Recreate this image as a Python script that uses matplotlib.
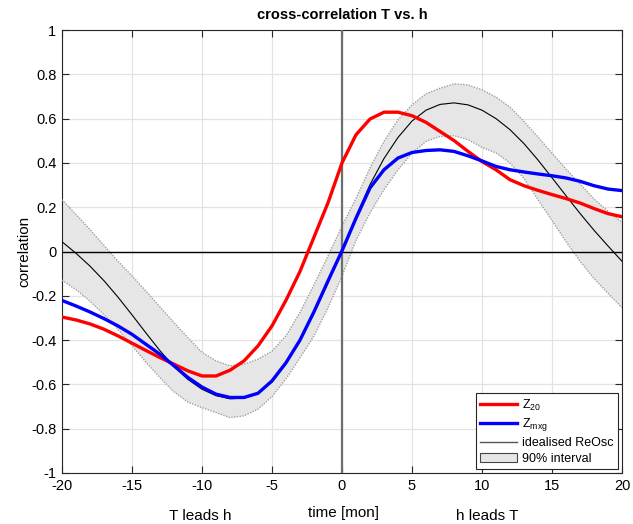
import numpy as np
import matplotlib
matplotlib.use("Agg")
import matplotlib.pyplot as plt
from matplotlib.patches import Patch
from matplotlib.lines import Line2D

plt.rcParams['font.family'] = ['Liberation Sans', 'DejaVu Sans']
plt.rcParams['mathtext.fontset'] = 'custom'
plt.rcParams['mathtext.rm'] = 'Liberation Sans'

lags = list(range(-20, 21))

z20 = [-0.296, -0.309, -0.327, -0.351, -0.381, -0.414, -0.447, -0.479, -0.509, -0.539,
       -0.562, -0.562, -0.536, -0.494, -0.426, -0.336, -0.220, -0.090, 0.065, 0.220,
       0.400, 0.527, 0.598, 0.629, 0.629, 0.613, 0.583, 0.542, 0.501, 0.452,
       0.406, 0.369, 0.324, 0.297, 0.276, 0.257, 0.239, 0.219, 0.194, 0.171, 0.157]

zmxg = [-0.221, -0.246, -0.273, -0.303, -0.336, -0.374, -0.419, -0.464, -0.516, -0.569,
        -0.612, -0.644, -0.659, -0.659, -0.640, -0.584, -0.502, -0.400, -0.272, -0.133,
        0.003, 0.150, 0.287, 0.369, 0.422, 0.447, 0.456, 0.459, 0.452, 0.432,
        0.409, 0.384, 0.369, 0.359, 0.350, 0.342, 0.332, 0.317, 0.297, 0.282, 0.275]

reosc = [0.044, -0.008, -0.066, -0.132, -0.206, -0.286, -0.368, -0.448, -0.520, -0.578,
         -0.622, -0.651, -0.665, -0.662, -0.640, -0.590, -0.507, -0.400, -0.278, -0.142,
         0.005, 0.159, 0.302, 0.420, 0.515, 0.589, 0.638, 0.664, 0.671, 0.662,
         0.638, 0.600, 0.550, 0.487, 0.413, 0.333, 0.252, 0.172, 0.096, 0.025, -0.044]

band_upper = [0.234, 0.167, 0.099, 0.027, -0.044, -0.110, -0.179, -0.250, -0.321, -0.390,
              -0.455, -0.494, -0.516, -0.509, -0.486, -0.450, -0.380, -0.275, -0.150, -0.020,
              0.114, 0.240, 0.377, 0.497, 0.595, 0.662, 0.712, 0.737, 0.757, 0.752,
              0.730, 0.697, 0.652, 0.587, 0.517, 0.444, 0.372, 0.306, 0.237, 0.182, 0.132]

band_lower = [-0.129, -0.172, -0.224, -0.285, -0.351, -0.425, -0.500, -0.570, -0.634, -0.680,
              -0.705, -0.727, -0.750, -0.742, -0.712, -0.655, -0.575, -0.480, -0.381, -0.254,
              -0.111, 0.050, 0.174, 0.279, 0.369, 0.444, 0.497, 0.519, 0.523, 0.505,
              0.470, 0.445, 0.400, 0.330, 0.234, 0.140, 0.045, -0.044, -0.122, -0.188, -0.254]

xticks = [-20, -15, -10, -5, 0, 5, 10, 15, 20]
yticks = [-1, -0.8, -0.6, -0.4, -0.2, 0, 0.2, 0.4, 0.6, 0.8, 1]
ytick_labels = ['-1', '-0.8', '-0.6', '-0.4', '-0.2', '0', '0.2', '0.4', '0.6', '0.8', '1']

fig = plt.figure(figsize=(6.33, 5.24), dpi=100)
ax = fig.add_axes([62/633, 1 - 473/524, 560/633, 443/524])

ax.fill_between(lags, band_lower, band_upper, facecolor='#e6e6e6', edgecolor='none', zorder=2)
ax.plot(lags, band_upper, color='#a0a0a0', lw=1.0, ls=(0, (1, 1)), zorder=3)
ax.plot(lags, band_lower, color='#a0a0a0', lw=1.0, ls=(0, (1, 1)), zorder=3)

ax.axhline(0, color='black', lw=1.0, zorder=3)
ax.axvline(0, color='#6e6e6e', lw=1.6, zorder=3)

ax.plot(lags, reosc, color='black', lw=0.8, zorder=4)
ax.plot(lags, z20, color='#ff0000', lw=2.4, zorder=5)
ax.plot(lags, zmxg, color='#0000ff', lw=2.4, zorder=6)

ax.set_xlim(-20, 20)
ax.set_ylim(-1, 1)
ax.set_xticks(xticks)
ax.set_xticklabels([str(t) for t in xticks])
ax.set_yticks(yticks)
ax.set_yticklabels(ytick_labels)
ax.grid(True, color='#e3e3e3', lw=0.9, zorder=0)
ax.set_axisbelow(True)
ax.tick_params(direction='in', length=5, width=0.8, top=True, right=True,
               labelsize=10.5, colors='#262626', pad=4)
ax.tick_params(labelcolor='black')
for s in ax.spines.values():
    s.set_color('#262626')
    s.set_linewidth(0.8)

ax.set_title('cross-correlation T vs. h', fontsize=10.5, fontweight='bold', pad=8)
ax.set_ylabel('correlation', fontsize=11, labelpad=0)
fig.text(344/633, 1 - 513/524, 'time [mon]', ha='center', va='center', fontsize=11)
fig.text(200/633, 1 - 516/524, 'T leads h', ha='center', va='center', fontsize=11)
fig.text(487/633, 1 - 516/524, 'h leads T', ha='center', va='center', fontsize=11)

handles = [Line2D([], [], color='#ff0000', lw=2.4),
           Line2D([], [], color='#0000ff', lw=2.4),
           Line2D([], [], color='#555555', lw=1.0),
           Patch(facecolor='#e6e6e6', edgecolor='#444444', lw=0.8)]
labels = ['Z$_{20}$', 'Z$_{\\mathrm{mxg}}$', 'idealised ReOsc', '90% interval']
leg = ax.legend(handles, labels, loc='lower right', fontsize=9, fancybox=False,
                framealpha=1, edgecolor='#262626', handlelength=3.0, handletextpad=0.4,
                borderpad=0.35, labelspacing=0.3, borderaxespad=0.3)
leg.get_frame().set_linewidth(0.8)

fig.savefig('out.png', dpi=100)
